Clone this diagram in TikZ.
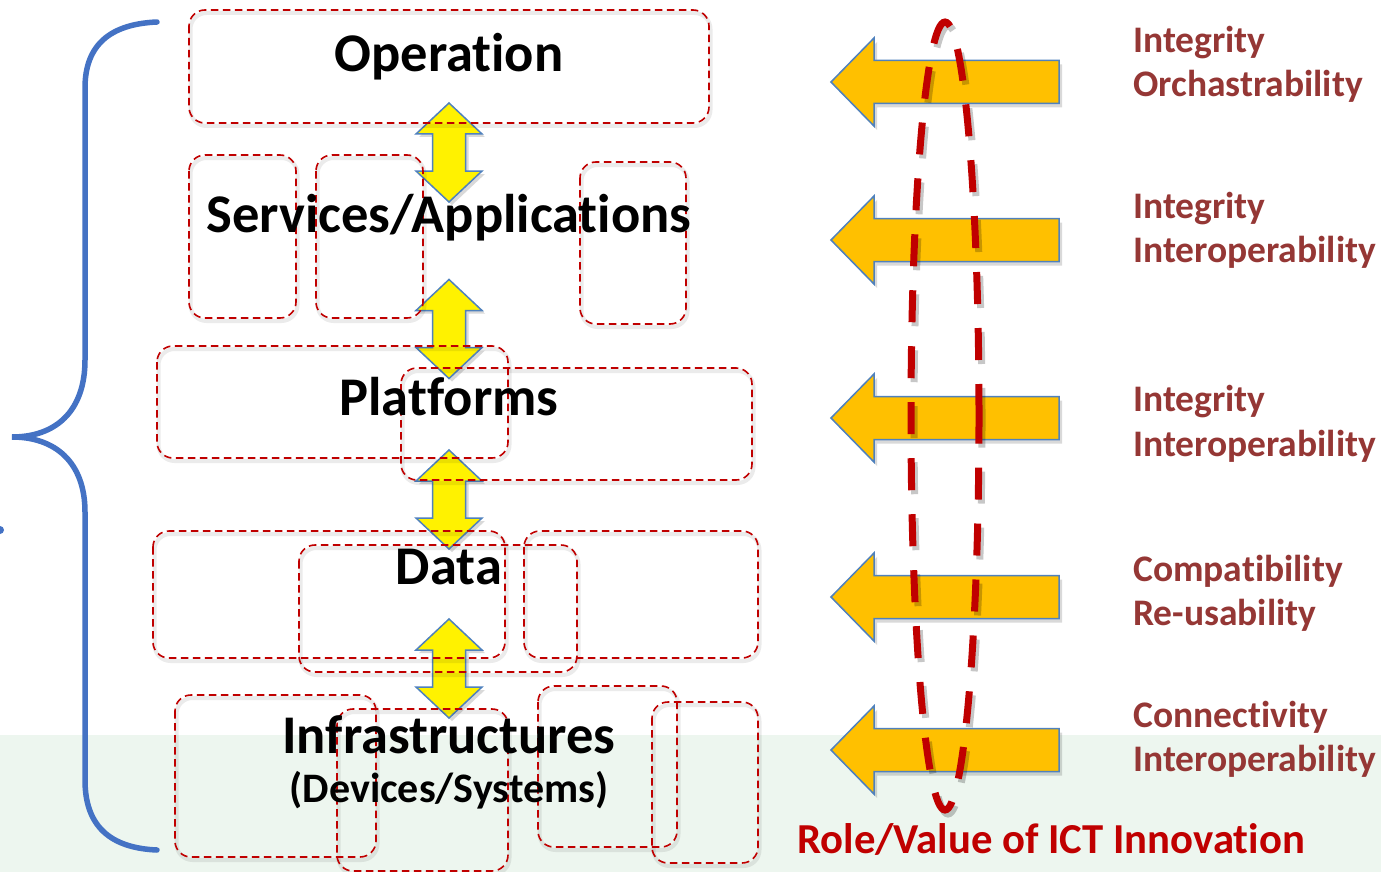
\documentclass[tikz,border=0pt]{standalone}
\usepackage{fontspec}
\setmainfont{Carlito}[Ligatures=NoCommon]
\definecolor{dred}{RGB}{192,0,0}
\definecolor{rlab}{RGB}{149,55,53}
\definecolor{ablue}{RGB}{79,129,189}
\definecolor{bracecol}{RGB}{68,114,196}
\definecolor{aorange}{RGB}{255,192,0}
\definecolor{bggreen}{RGB}{237,246,239}
\begin{document}
\begin{tikzpicture}[x=1pt,y=-1pt,
  dbox/.style={draw=dred, dash pattern=on 7.5pt off 4.5pt, line width=1.6pt, rounded corners=16pt},
  dshadow/.style={draw=black, opacity=0.08, line width=4pt, rounded corners=16pt},
  yarrow/.style={fill=yellow, draw=ablue, line width=1.5pt, line join=miter},
  oarrow/.style={fill=aorange, draw=ablue, line width=1.5pt, line join=miter},
  ashadow/.style={fill=black, opacity=0.15},
  brace/.style={draw=bracecol, line width=5.5pt, line cap=round},
  ell/.style={draw=dred, line width=7pt, dash pattern=on 32pt off 24pt},
  ellshadow/.style={draw=black, opacity=0.22, line width=7pt, dash pattern=on 32pt off 24pt},
  lbl/.style={font=\bfseries\fontsize{54.5}{60}\selectfont, inner sep=0pt, anchor=base},
  rlbl/.style={font=\bfseries\fontsize{37.5}{40}\selectfont, text=rlab, inner sep=0pt, anchor=base west},
  yarr/.pic={
    \fill[ashadow] (3,-46.5) -- (36,-15.5) -- (19.5,-15.5) -- (19.5,21.5) -- (36,21.5) -- (3,52.5) -- (-30,21.5) -- (-13.5,21.5) -- (-13.5,-15.5) -- (-30,-15.5) -- cycle;
    \draw[yarrow] (0,-49.5) -- (33,-18.5) -- (16.5,-18.5) -- (16.5,18.5) -- (33,18.5) -- (0,49.5) -- (-33,18.5) -- (-16.5,18.5) -- (-16.5,-18.5) -- (-33,-18.5) -- cycle;
  },
  oarr/.pic={
    \fill[ashadow] (3,4) -- (46,-40) -- (46,-17.5) -- (231,-17.5) -- (231,25.5) -- (46,25.5) -- (46,48) -- cycle;
    \draw[oarrow] (0,0) -- (43,-44) -- (43,-21.5) -- (228,-21.5) -- (228,21.5) -- (43,21.5) -- (43,44) -- cycle;
  }
]
\useasboundingbox (0,0) rectangle (1381,872);
\fill[white] (0,0) rectangle (1381,872);
\fill[bggreen] (0,735) rectangle (1381,872);

% brace
\draw[brace] (157,22) .. controls (110,24) and (85,45) .. (85,88) -- (85,360)
  .. controls (85,412) and (55,437) .. (12,437)
  .. controls (55,437) and (85,462) .. (85,512) -- (85,780)
  .. controls (85,826) and (110,848) .. (157,850);
\fill[bracecol] (0,530) circle (4pt);

% yellow double arrows
\pic (ya1) at (449,152.5) {yarr};
\pic (ya2) at (449,329) {yarr};
\pic (ya3) at (449,499.5) {yarr};
\pic (ya4) at (449,668.5) {yarr};

% dashed boxes (shadows)
\foreach \a/\b/\c/\d in {189/10/709/123, 189/155/296/318, 316/155/423/318, 580/162/686/324,
  157/346/508/458, 401/368/752/480,
  153/531/505/658, 299/545/577/672, 524/531/758/658,
  175/695/376/857, 337/709/508/871, 538/686/677/847, 652/702/758/863}
  \draw[dshadow] (\a+1.5,\b+3) rectangle (\c+1.5,\d+3);
% dashed boxes
\draw[dbox] (189,10) rectangle (709,123);
\draw[dbox] (189,155) rectangle (296,318);
\draw[dbox] (316,155) rectangle (423,318);
\draw[dbox] (580,162) rectangle (686,324);
\draw[dbox] (157,346) rectangle (508,458);
\draw[dbox] (401,368) rectangle (752,480);
\draw[dbox] (153,531) rectangle (505,658);
\draw[dbox] (299,545) rectangle (577,672);
\draw[dbox] (524,531) rectangle (758,658);
\draw[dbox] (175,695) rectangle (376,857);
\draw[dbox] (337,709) rectangle (508,871);
\draw[dbox] (538,686) rectangle (677,847);
\draw[dbox] (652,702) rectangle (758,863);

% layer labels
\node[lbl] (op) at (449,72) {Operation};
\node[lbl] (sa) at (449,232) {Services/Applications};
\node[lbl] (pf) at (449,415) {Platforms};
\node[lbl] (da) at (449,584) {Data};
\node[lbl] (inf) at (449,753) {Infrastructures};
\node[lbl, font=\bfseries\fontsize{42}{46}\selectfont] (dev) at (449,802) {(Devices/Systems)};

% orange arrows
\pic (oa1) at (831,82) {oarr};
\pic (oa2) at (831,240) {oarr};
\pic (oa3) at (831,418) {oarr};
\pic (oa4) at (831,597) {oarr};
\pic (oa5) at (831,750) {oarr};

% dashed ellipse
\draw[ellshadow] (948,420) ellipse [x radius=34pt, y radius=394pt];
\draw[ell] (945,416) ellipse [x radius=34pt, y radius=394pt];

% right labels
\node[rlbl] (r1a) at (1133,53) {Integrity};
\node[rlbl] (r1b) at (1133,97) {Orchastrability};
\node[rlbl] (r2a) at (1133,218) {Integrity};
\node[rlbl] (r2b) at (1133,262) {Interoperability};
\node[rlbl] (r3a) at (1133,411) {Integrity};
\node[rlbl] (r3b) at (1133,456) {Interoperability};
\node[rlbl] (r4a) at (1133,581) {Compatibility};
\node[rlbl] (r4b) at (1133,625) {Re-usability};
\node[rlbl] (r5a) at (1133,727) {Connectivity};
\node[rlbl] (r5b) at (1133,771) {Interoperability};

\node[rlbl, text=dred, font=\bfseries\fontsize{42.7}{46}\selectfont] (role) at (797,853) {Role/Value of ICT Innovation};
\end{tikzpicture}
\end{document}
